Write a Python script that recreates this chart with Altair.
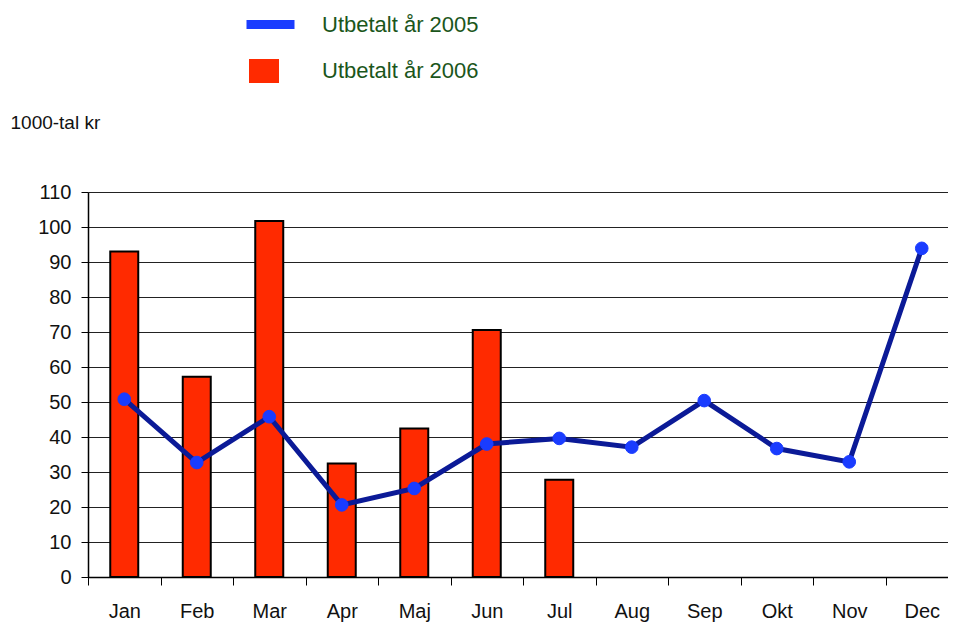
import altair as alt
import pandas as pd

months = ["Jan", "Feb", "Mar", "Apr", "Maj", "Jun", "Jul", "Aug", "Sep", "Okt", "Nov", "Dec"]
paid_2005 = [50.8, 32.7, 45.8, 20.6, 25.3, 38.0, 39.6, 37.1, 50.4, 36.7, 32.9, 93.9]
months_2006 = ["Jan", "Feb", "Mar", "Apr", "Maj", "Jun", "Jul"]
paid_2006 = [93.0, 57.2, 101.7, 32.4, 42.4, 70.6, 27.8]
y_ticks = [0, 10, 20, 30, 40, 50, 60, 70, 80, 90, 100, 110]
series_2005 = "Utbetalt år 2005"
series_2006 = "Utbetalt år 2006"
y_title = "1000-tal kr"

df05 = pd.DataFrame({"month": months, "value": paid_2005, "series": series_2005})
df06 = pd.DataFrame({"month": months_2006, "value": paid_2006, "series": series_2006})

AX_FONT = "Liberation Sans"
LEG_FONT = "Liberation Sans"
GREEN = "#1b561b"

x_scale = alt.Scale(domain=months, range=[0, 870], paddingInner=0, paddingOuter=0)
y_scale = alt.Scale(domain=[0, 110], nice=False, zero=True)

x_axis = alt.Axis(
    tickBand="extent", labelAngle=0, labelFont=AX_FONT, labelFontSize=20,
    labelColor="#111111", labelPadding=16, tickSize=8, tickColor="#000000",
    domainColor="#000000", domainWidth=1.5, tickWidth=1, grid=False,
    labelFlush=False,
)
y_axis = alt.Axis(
    values=y_ticks, tickCount=12, labelOverlap=False, labelFont=AX_FONT,
    labelFontSize=20, labelColor="#111111",
    labelPadding=10, tickSize=7, tickColor="#000000", domainColor="#000000",
    domainWidth=1.5, grid=True, gridColor="#222222", gridWidth=1.2,
    titleAngle=0, titleAlign="left", titleBaseline="alphabetic",
    titleX=-78, titleY=-64, titleFont=AX_FONT, titleFontSize=19,
    titleFontWeight="normal", titleColor="#111111",
)


def xe():
    return alt.X("month:N", sort=months, scale=x_scale, title=None, axis=x_axis)


def ye():
    return alt.Y("value:Q", scale=y_scale, title=y_title, axis=y_axis)


bars = alt.Chart(df06).mark_bar(size=28, stroke="#000000", strokeWidth=2).encode(
    x=xe(),
    y=ye(),
    fill=alt.Fill(
        "series:N", title=None,
        scale=alt.Scale(domain=[series_2006], range=["#ff2a00"]),
        legend=alt.Legend(
            orient="none", legendX=161, legendY=-136, padding=0,
            symbolType="M-1,-0.8L1,-0.8L1,0.8L-1,0.8Z", symbolSize=900,
            symbolStrokeWidth=0, labelOffset=43, labelFont=LEG_FONT,
            labelFontSize=22, labelColor=GREEN, labelLimit=400,
        ),
    ),
)

line = alt.Chart(df05).mark_line(color="#0b1a97", strokeWidth=5).encode(
    x=xe(),
    y=ye(),
)

points = alt.Chart(df05).mark_point(filled=True, size=160, fill="#1a3cff", strokeWidth=1, opacity=1).encode(
    x=xe(),
    y=ye(),
    stroke=alt.Stroke(
        "series:N", title=None,
        scale=alt.Scale(domain=[series_2005], range=["#1a3cff"]),
        legend=alt.Legend(
            orient="none", legendX=154, legendY=-196, padding=0,
            symbolType="stroke", symbolSize=2304, symbolStrokeWidth=9,
            labelOffset=23, labelFont=LEG_FONT, labelFontSize=22,
            labelColor=GREEN, labelLimit=400,
        ),
    ),
)

chart = alt.layer(bars, line, points).resolve_scale(
    fill="independent", stroke="independent"
).properties(
    width=860, height=385,
    autosize=alt.AutoSizeParams(type="none"),
    padding={"left": 80, "top": 184, "right": 0, "bottom": 46},
).configure_view(stroke=None).configure(background="#ffffff")

chart.save("out.html", embed_options={"renderer": "svg", "actions": False})
